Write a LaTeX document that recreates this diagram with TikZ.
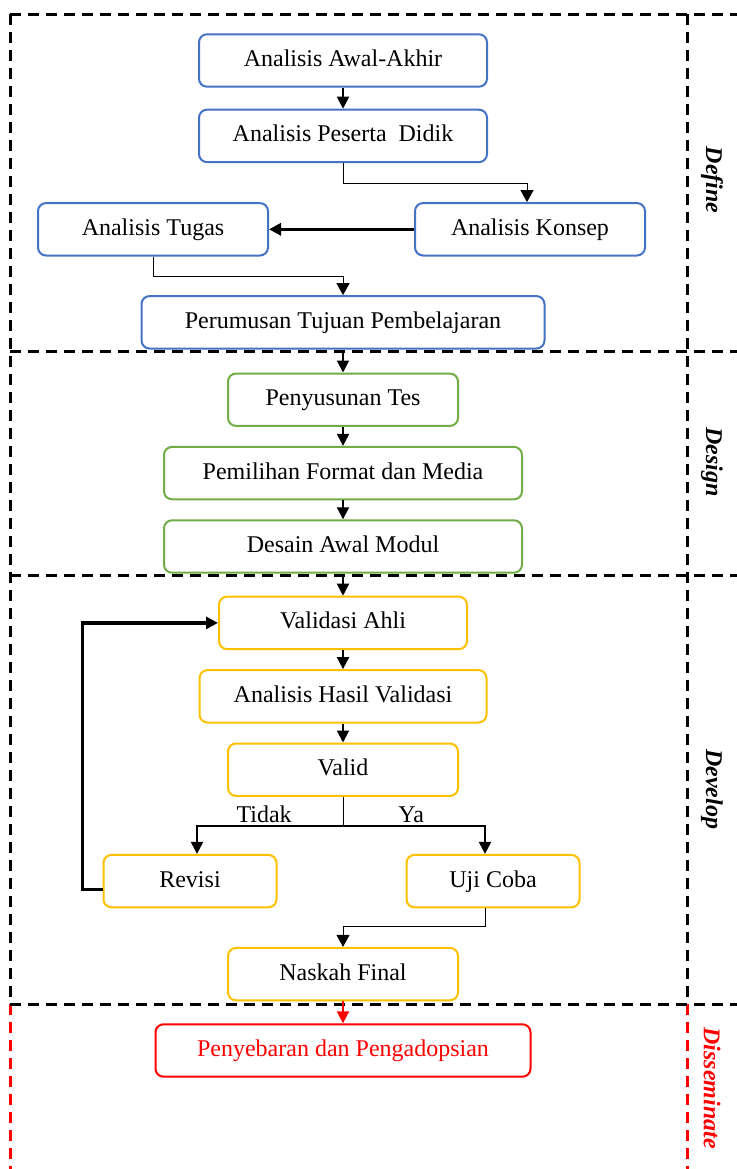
\documentclass[tikz,border=0pt]{standalone}
\usepackage{fontspec}
\setmainfont{Liberation Serif}
\usepackage{xcolor}
\usepackage{tikz}
\usetikzlibrary{arrows.meta, positioning, calc}
\definecolor{defblue}{RGB}{68, 114, 196}
\definecolor{desgreen}{RGB}{112, 173, 71}
\definecolor{devgold}{RGB}{255, 192, 0}
\definecolor{disred}{RGB}{255, 0, 0}
\tikzstyle{stage} = [rectangle, rounded corners=4pt, minimum height=26.2pt, text height=8.5pt, text depth=2.5pt, text centered, line width=1pt, fill=white, font=\fontsize{12}{14}\selectfont]
\tikzstyle{defbox} = [stage, draw=defblue]
\tikzstyle{desbox} = [stage, draw=desgreen]
\tikzstyle{devbox} = [stage, draw=devgold]
\tikzstyle{disbox} = [stage, draw=disred, text=disred]
\tikzstyle{arrow} = [line width=1pt, -{Triangle[length=6pt, width=6pt]}]
\tikzstyle{thinarrow} = [line width=0.5pt, -{Triangle[length=6pt, width=6.5pt]}]
\tikzstyle{boldarrow} = [line width=1.6pt, -{Triangle[length=6pt, width=6pt]}]
\tikzstyle{redarrow} = [arrow, color=disred]
\tikzstyle{frame} = [line width=1.5pt, dash pattern=on 5.5pt off 3.5pt]
\tikzstyle{phase} = [rotate=-90, font=\fontsize{12}{14}\selectfont\bfseries\itshape]

\begin{document}
\begin{tikzpicture}[x=0.5pt, y=-0.5pt]
    \useasboundingbox (0,0) rectangle (737,1169);

    % Phase frames
    \draw [frame] (10,14) -- (737,14);
    \draw [frame] (10,351) -- (737,351);
    \draw [frame] (10,575) -- (737,575);
    \draw [frame] (10,14) -- (10,1004);
    \draw [frame] (687,14) -- (687,1004);
    \draw [frame, disred] (10,1004) -- (10,1169);
    \draw [frame, disred] (687,1004) -- (687,1169);
    \draw [frame] (10,1004) -- (737,1004);

    % Define
    \node (awal) [defbox, minimum width=144pt] at (343,60.5) {Analisis Awal-Akhir};
    \node (peserta) [defbox, minimum width=144pt, below=10.5pt of awal] {Analisis Peserta\ \ Didik};
    \node (konsep) [defbox, minimum width=115pt, below=19.5pt of peserta, xshift=93.5pt] {Analisis Konsep};
    \node (tugas) [defbox, minimum width=115pt, left=72.5pt of konsep] {Analisis Tugas};
    \node (perumusan) [defbox, minimum width=201.5pt, below=66pt of peserta] {Perumusan Tujuan Pembelajaran};

    % Design
    \node (tes) [desbox, minimum width=115pt, below=11.5pt of perumusan] {Penyusunan Tes};
    \node (format) [desbox, minimum width=179pt, below=9.5pt of tes] {Pemilihan Format dan Media};
    \node (desain) [desbox, minimum width=179pt, below=9.5pt of format] {Desain Awal Modul};

    % Develop
    \node (validasi) [devbox, minimum width=124pt, below=11pt of desain] {Validasi Ahli};
    \node (hasil) [devbox, minimum width=143.5pt, below=9.5pt of validasi] {Analisis Hasil Validasi};
    \node (valid) [devbox, minimum width=115pt, below=9.5pt of hasil] {Valid};
    \node (revisi) [devbox, minimum width=86.5pt, below=28.5pt of valid, xshift=-76.5pt] {Revisi};
    \node (uji) [devbox, minimum width=86.5pt, right=64pt of revisi] {Uji Coba};
    \node (naskah) [devbox, minimum width=115pt, below=75pt of valid] {Naskah Final};

    % Disseminate
    \node (sebar) [disbox, minimum width=187.5pt, below=11pt of naskah] {Penyebaran dan Pengadopsian};

    % Arrows
    \draw [arrow] (awal) -- (peserta);
    \draw [thinarrow] (peserta.south) -- ++(0,20) -| ([xshift=-1.5pt]konsep.north);
    \draw [boldarrow] (konsep) -- (tugas);
    \draw [thinarrow] (tugas.south) -- ++(0,20) -| (perumusan.north);
    \draw [arrow] (perumusan) -- (tes);
    \draw [arrow] (tes) -- (format);
    \draw [arrow] (format) -- (desain);
    \draw [arrow] (desain) -- (validasi);
    \draw [arrow] (validasi) -- (hasil);
    \draw [arrow] (hasil) -- (valid);
    \draw [line width=0.5pt] (valid.south) -- ++(0,29) coordinate (split);
    \draw [arrow] (split) -| node[pos=0.27, above=0pt, inner sep=1pt, font=\fontsize{12}{14}\selectfont] (tidak) {Tidak} ([xshift=3.5pt]revisi.north);
    \draw [arrow] (split) -| node[pos=0.24, above=0pt, inner sep=1pt, font=\fontsize{12}{14}\selectfont] (ya) {Ya} ([xshift=-4pt]uji.north);
    \draw [boldarrow] ([yshift=-4pt]revisi.west) -- ++(-20,0) |- (validasi.west);
    \draw [thinarrow] ([xshift=-4pt]uji.south) -- ++(0,18) -| (naskah.north);
    \draw [redarrow] (naskah) -- (sebar);

    % Labels
    \node (define) [phase] at (712,180) {Define};
    \node (design) [phase] at (712,462) {Design};
    \node (develop) [phase] at (712,789) {Develop};
    \node (disseminate) [phase, text=disred] at (712,1088) {Disseminate};
\end{tikzpicture}
\end{document}
